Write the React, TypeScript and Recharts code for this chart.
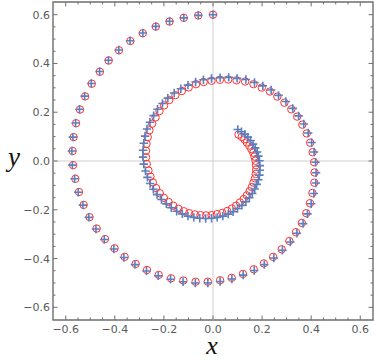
import React from 'react';
import { ScatterChart, Scatter, XAxis, YAxis, ReferenceLine, ReferenceArea } from 'recharts';

// red circles
const RED_X = [
  0, -0.060, -0.119, -0.177, -0.233, -0.286, -0.337, -0.383, -0.425, -0.461,
  -0.494, -0.521, -0.542, -0.558, -0.568, -0.572, -0.570, -0.561, -0.546, -0.527,
  -0.503, -0.474, -0.440, -0.401, -0.360, -0.315, -0.269, -0.221, -0.171, -0.121,
  -0.071, -0.021, 0.029, 0.076, 0.122, 0.166, 0.207, 0.245, 0.280, 0.311,
  0.338, 0.362, 0.380, 0.395, 0.405, 0.413, 0.414, 0.412, 0.406, 0.396,
  0.382, 0.364, 0.343, 0.319, 0.291, 0.262, 0.232, 0.199, 0.165, 0.131,
  0.096, 0.062, 0.028, -0.006, -0.038, -0.069, -0.099, -0.127, -0.153, -0.178,
  -0.199, -0.218, -0.234, -0.248, -0.259, -0.266, -0.271, -0.273, -0.273, -0.270,
  -0.263, -0.255, -0.245, -0.232, -0.217, -0.200, -0.181, -0.162, -0.141, -0.119,
  -0.097, -0.074, -0.051, -0.028, -0.006, 0.016, 0.038, 0.058, 0.077, 0.094,
  0.110, 0.125, 0.138, 0.149, 0.158, 0.165, 0.171, 0.174, 0.176, 0.175,
  0.173, 0.169, 0.164, 0.156, 0.148, 0.138, 0.128, 0.117, 0.104,
];
const RED_Y = [
  0.600, 0.597, 0.587, 0.572, 0.551, 0.524, 0.492, 0.454, 0.412, 0.366,
  0.317, 0.265, 0.211, 0.155, 0.098, 0.041, -0.017, -0.073, -0.127, -0.180,
  -0.230, -0.277, -0.320, -0.358, -0.393, -0.422, -0.447, -0.467, -0.481, -0.490,
  -0.495, -0.495, -0.489, -0.479, -0.463, -0.444, -0.420, -0.393, -0.362, -0.328,
  -0.292, -0.254, -0.214, -0.173, -0.131, -0.089, -0.047, -0.005, 0.036, 0.075,
  0.113, 0.149, 0.182, 0.212, 0.239, 0.264, 0.285, 0.301, 0.315, 0.326,
  0.331, 0.334, 0.333, 0.329, 0.324, 0.315, 0.302, 0.287, 0.270, 0.250,
  0.228, 0.205, 0.179, 0.153, 0.126, 0.098, 0.070, 0.042, 0.015, -0.012,
  -0.039, -0.064, -0.088, -0.111, -0.132, -0.151, -0.168, -0.183, -0.196, -0.206,
  -0.214, -0.219, -0.222, -0.223, -0.222, -0.218, -0.213, -0.205, -0.195, -0.183,
  -0.170, -0.156, -0.141, -0.124, -0.107, -0.089, -0.071, -0.053, -0.035, -0.017,
  0.001, 0.018, 0.034, 0.049, 0.063, 0.076, 0.089, 0.099, 0.108,
];

// blue pluses
const BLUE_X = [
  0, -0.060, -0.119, -0.177, -0.233, -0.286, -0.338, -0.384, -0.426, -0.462,
  -0.496, -0.523, -0.544, -0.560, -0.571, -0.575, -0.573, -0.564, -0.549, -0.530,
  -0.506, -0.477, -0.443, -0.404, -0.363, -0.318, -0.271, -0.223, -0.173, -0.122,
  -0.072, -0.021, 0.029, 0.077, 0.123, 0.168, 0.209, 0.248, 0.283, 0.315,
  0.342, 0.367, 0.385, 0.400, 0.411, 0.419, 0.420, 0.418, 0.412, 0.402,
  0.388, 0.370, 0.349, 0.325, 0.297, 0.267, 0.237, 0.203, 0.169, 0.134,
  0.098, 0.064, 0.029, -0.006, -0.039, -0.071, -0.102, -0.131, -0.158, -0.184,
  -0.206, -0.226, -0.242, -0.257, -0.269, -0.277, -0.282, -0.285, -0.285, -0.282,
  -0.275, -0.267, -0.256, -0.243, -0.228, -0.210, -0.190, -0.170, -0.148, -0.125,
  -0.102, -0.078, -0.054, -0.030, -0.006, 0.017, 0.040, 0.062, 0.082, 0.100,
  0.118, 0.134, 0.148, 0.160, 0.170, 0.178, 0.185, 0.189, 0.191, 0.191,
  0.189, 0.185, 0.180, 0.172, 0.163, 0.153, 0.142, 0.130, 0.116, 0.101,
];
const BLUE_Y = [
  0.600, 0.597, 0.587, 0.573, 0.552, 0.525, 0.493, 0.455, 0.413, 0.367,
  0.318, 0.266, 0.212, 0.156, 0.098, 0.041, -0.017, -0.073, -0.128, -0.181,
  -0.231, -0.279, -0.322, -0.361, -0.396, -0.425, -0.451, -0.471, -0.485, -0.495,
  -0.500, -0.500, -0.494, -0.484, -0.468, -0.449, -0.425, -0.398, -0.366, -0.332,
  -0.296, -0.257, -0.217, -0.175, -0.133, -0.090, -0.048, -0.005, 0.037, 0.076,
  0.115, 0.152, 0.185, 0.216, 0.244, 0.269, 0.291, 0.308, 0.322, 0.334,
  0.339, 0.343, 0.342, 0.338, 0.333, 0.324, 0.311, 0.296, 0.279, 0.258,
  0.236, 0.212, 0.186, 0.159, 0.131, 0.102, 0.073, 0.044, 0.016, -0.013,
  -0.041, -0.067, -0.092, -0.116, -0.138, -0.158, -0.176, -0.192, -0.206, -0.217,
  -0.226, -0.231, -0.235, -0.236, -0.235, -0.231, -0.226, -0.218, -0.208, -0.195,
  -0.182, -0.167, -0.151, -0.133, -0.115, -0.096, -0.077, -0.058, -0.038, -0.019,
  0.001, 0.020, 0.037, 0.054, 0.069, 0.084, 0.098, 0.110, 0.120, 0.129,
];

const MAJOR_TICKS = [-0.6, -0.4, -0.2, 0, 0.2, 0.4, 0.6];
const ALL_TICKS = [
  -0.6, -0.55, -0.5, -0.45, -0.4, -0.35, -0.3, -0.25, -0.2, -0.15, -0.1, -0.05, 0,
  0.05, 0.1, 0.15, 0.2, 0.25, 0.3, 0.35, 0.4, 0.45, 0.5, 0.55, 0.6,
];

const LIM = 0.652;
const FRAME = '#6e6e6e';
const LABEL = '#5a5a5a';

const redData = RED_X.map((x, i) => ({ x, y: RED_Y[i] }));
const blueData = BLUE_X.map((x, i) => ({ x, y: BLUE_Y[i] }));

const isMajor = (v: number) => MAJOR_TICKS.some((m) => Math.abs(m - v) < 1e-6);
const fmt = (v: number) => (v < 0 ? '\u2212' : '') + Math.abs(v).toFixed(1);

const BottomTick = (props: any) => {
  const { x, y, payload } = props;
  const major = isMajor(payload.value);
  return (
    <g>
      <line x1={x} x2={x} y1={y} y2={y - (major ? 4.5 : 2.5)} stroke={FRAME} strokeWidth={1} />
      {major && (
        <text x={x} y={y + 13} textAnchor="middle" fontSize={11} fill={LABEL} fontFamily="DejaVu Sans">
          {fmt(payload.value)}
        </text>
      )}
    </g>
  );
};

const LeftTick = (props: any) => {
  const { x, y, payload } = props;
  const major = isMajor(payload.value);
  return (
    <g>
      <line x1={x} x2={x + (major ? 4.5 : 2.5)} y1={y} y2={y} stroke={FRAME} strokeWidth={1} />
      {major && (
        <text x={x - 3} y={y + 4} textAnchor="end" fontSize={11} fill={LABEL} fontFamily="DejaVu Sans">
          {fmt(payload.value)}
        </text>
      )}
    </g>
  );
};

const RedCircle = (p: any) => (
  <circle cx={p.cx} cy={p.cy} r={3.7} fill="none" stroke="#ff3030" strokeWidth={1} />
);

const BluePlus = (p: any) => (
  <path
    d={`M${p.cx - 4.2},${p.cy}h8.4M${p.cx},${p.cy - 4.2}v8.4`}
    stroke="#5a7fbf"
    strokeWidth={1.6}
    fill="none"
  />
);

// tick length in data units for the top and right frame edges
const TL_MAJOR = 0.018;
const TL_MINOR = 0.010;

export default function App() {
  return (
    <div style={{ position: 'absolute', left: 0, top: 0, width: 374, height: 362 }}>
      <ScatterChart width={374} height={362} margin={{ top: 2, right: 1, bottom: 0, left: 0 }}>
        <XAxis
          type="number"
          dataKey="x"
          domain={[-LIM, LIM]}
          ticks={ALL_TICKS}
          interval={0}
          allowDataOverflow
          height={42}
          tickLine={false}
          tickSize={0}
          tickMargin={0}
          axisLine={false}
          tick={<BottomTick />}
        />
        <YAxis
          type="number"
          dataKey="y"
          domain={[-LIM, LIM]}
          ticks={ALL_TICKS}
          interval={0}
          allowDataOverflow
          width={53}
          tickLine={false}
          tickSize={0}
          tickMargin={0}
          axisLine={false}
          tick={<LeftTick />}
        />
        <ReferenceLine x={0} stroke="#cfcfcf" strokeWidth={1} />
        <ReferenceLine y={0} stroke="#cfcfcf" strokeWidth={1} />
        {ALL_TICKS.map((t) => (
          <ReferenceLine
            key={`top-${t}`}
            ifOverflow="visible"
            stroke={FRAME}
            strokeWidth={1}
            segment={[{ x: t, y: LIM }, { x: t, y: LIM - (isMajor(t) ? TL_MAJOR : TL_MINOR) }]}
          />
        ))}
        {ALL_TICKS.map((t) => (
          <ReferenceLine
            key={`right-${t}`}
            ifOverflow="visible"
            stroke={FRAME}
            strokeWidth={1}
            segment={[{ x: LIM, y: t }, { x: LIM - (isMajor(t) ? TL_MAJOR : TL_MINOR), y: t }]}
          />
        ))}
        <ReferenceArea
          x1={-LIM}
          x2={LIM}
          y1={-LIM}
          y2={LIM}
          ifOverflow="visible"
          fill="none"
          stroke={FRAME}
          strokeWidth={1.4}
        />
        <Scatter data={redData} shape={<RedCircle />} isAnimationActive={false} />
        <Scatter data={blueData} shape={<BluePlus />} isAnimationActive={false} />
        <text x={212} y={354} textAnchor="middle" fontSize={26} fontStyle="italic" fontFamily="Liberation Serif" fill="#111">
          x
        </text>
        <text x={14} y={166} textAnchor="middle" fontSize={27} fontStyle="italic" fontFamily="Liberation Serif" fill="#111">
          y
        </text>
      </ScatterChart>
    </div>
  );
}
